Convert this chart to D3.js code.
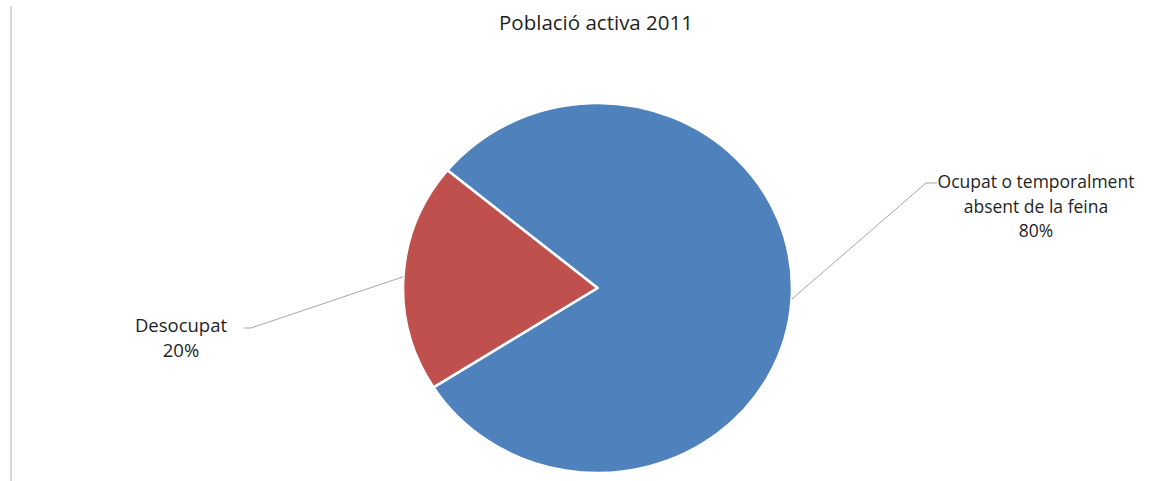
<!DOCTYPE html>
<html>
<head>
<meta charset="utf-8">
<script src="https://cdn.jsdelivr.net/npm/d3@7"></script>
<style>
  body { margin: 0; background: #fff; }
  text { font-family: "Open Sans", "Liberation Sans", sans-serif; fill: #1f1f1f; }
</style>
</head>
<body>
<div id="chart"></div>
<script>
// data
var categories = ["Ocupat o temporalment absent de la feina", "Desocupat"];
var values = [80, 20];
var percentLabels = ["80%", "20%"];
var colors = ["#4F81BD", "#C0504D"];

var svgWidth = 1173;
var svgHeight = 481;

var svg = d3.select("#chart")
    .append("svg")
    .attr("width", svgWidth)
    .attr("height", svgHeight);

// left border of chart area
svg.append("line")
    .attr("x1", 11).attr("x2", 11)
    .attr("y1", 6).attr("y2", svgHeight)
    .attr("stroke", "#d9d9d9")
    .attr("stroke-width", 2);

// title
svg.append("text")
    .attr("x", 596)
    .attr("y", 30)
    .attr("text-anchor", "middle")
    .attr("font-size", "20.5px")
    .text("Població activa 2011");

// pie (slightly wider than tall, like the reference)
var cx = 597.5, cy = 288;
var r = 185;
var sx = 194.5 / 185;

var pie = d3.pie()
    .sort(null)
    .startAngle(-50.5 * Math.PI / 180)
    .endAngle((360 - 50.5) * Math.PI / 180);

var arcs = pie(values);

var arc = d3.arc().innerRadius(0).outerRadius(r);

var pieGroup = svg.append("g")
    .attr("transform", `translate(${cx}, ${cy}) scale(${sx}, 1)`);

pieGroup.selectAll("path")
    .data(arcs)
    .enter()
    .append("path")
    .attr("d", arc)
    .attr("fill", (d, i) => colors[i])
    .attr("stroke", "#fff")
    .attr("stroke-width", 2.5)
    .attr("stroke-linejoin", "round");

// leader lines + labels
function edgePoint(d) {
    var a = (d.startAngle + d.endAngle) / 2;
    return [cx + sx * r * Math.sin(a), cy - r * Math.cos(a)];
}

var labelSpecs = [
    { elbow: [926, 183], end: [937, 183], lines: ["Ocupat o temporalment", "absent de la feina", percentLabels[0]], x: 1036, y: 188, size: 17.5 },
    { elbow: [251, 328], end: [244, 328], lines: ["Desocupat", percentLabels[1]], x: 181, y: 332, size: 18.5 }
];

arcs.forEach(function (d, i) {
    var p = edgePoint(d);
    var s = labelSpecs[i];
    svg.append("polyline")
        .attr("points", [p, s.elbow, s.end].map(q => q.join(",")).join(" "))
        .attr("fill", "none")
        .attr("stroke", "#a6a6a6")
        .attr("stroke-width", 1);

    var t = svg.append("text")
        .attr("text-anchor", "middle")
        .attr("font-size", s.size + "px");
    s.lines.forEach(function (line, k) {
        t.append("tspan")
            .attr("x", s.x)
            .attr("y", s.y + k * 24.5)
            .text(line);
    });
});
</script>
</body>
</html>
